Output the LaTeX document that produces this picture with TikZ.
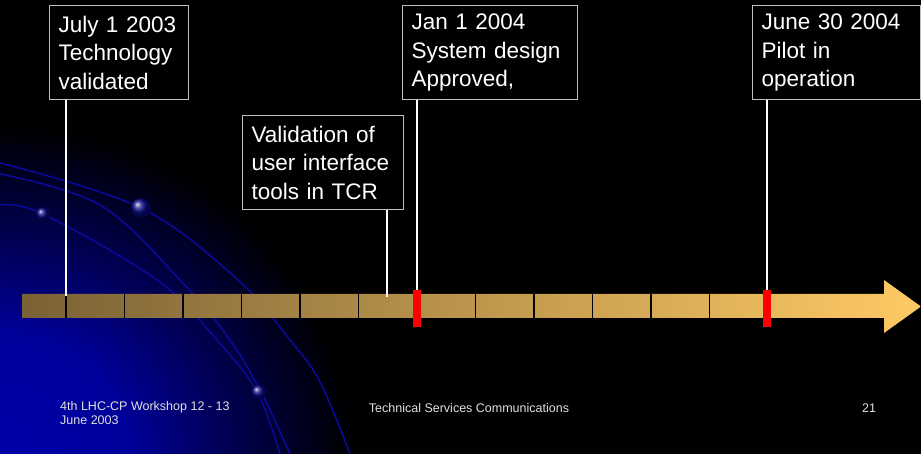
\documentclass[tikz,border=0pt]{standalone}
\usepackage{fontspec}
\setmainfont{Liberation Sans}
\usetikzlibrary{positioning}
\definecolor{barleft}{HTML}{7A6236}
\definecolor{barright}{HTML}{FFCA64}
\definecolor{arcblue}{HTML}{0A0A9C}
\definecolor{glowblue}{HTML}{0000A8}
\pgfdeclareradialshading{glow}{\pgfpoint{0bp}{0bp}}{color(0bp)=(glowblue); color(9bp)=(glowblue!92!black); color(17bp)=(glowblue!45!black); color(25bp)=(black); color(50bp)=(black)}

\begin{document}
\begin{tikzpicture}[x=1pt,y=-1pt,
    milestone/.style={draw=white!75!black, line width=1pt, fill=black,
        text=white, anchor=north west, align=left, inner xsep=9pt,
        inner ysep=0pt, minimum height=94pt,
        font=\fontsize{22.5}{28.5}\selectfont},
    pin/.style={draw=white, line width=2pt},
    marker/.style={fill=red, minimum width=8pt, minimum height=37pt,
        inner sep=0pt},
    orbit/.style={draw=arcblue, line width=1.5pt},
    footer/.style={text=white!88!black, inner sep=0pt,
        font=\fontsize{12.5}{14.5}\selectfont}]

    % background
    \fill[black] (0,0) rectangle (921,454);
    \useasboundingbox (0,0) rectangle (921,454);
    \begin{scope}
        \clip (0,0) rectangle (921,454);
        \shade[shading=glow] (0,454) ellipse (350 and 330);
        \draw[orbit] plot[smooth, tension=0.6] coordinates {(0,163) (141,208) (238,280) (290,340) (320,382) (350,454)};
        \draw[orbit] plot[smooth, tension=0.6] coordinates {(0,174) (100,205) (180,280) (230,340) (262,394) (290,454)};
        \draw[orbit] plot[smooth, tension=0.6] coordinates {(0,205) (43,214) (157,280) (217,340) (257,392) (280,454)};
        \shade[ball color=arcblue!85!black] (43,214) circle (7);
        \shade[ball color=arcblue!85!black] (141,208) circle (10);
        \shade[ball color=arcblue!85!black] (259,392) circle (7.5);
    \end{scope}

    % time line
    \shade[left color=barleft, right color=barright]
        (22,294) -- (884,294) -- (884,280) -- (921,306.5) -- (884,333)
        -- (884,318) -- (22,318) -- cycle;
    \foreach \i in {0,...,11}
        \draw[black, line width=1.5pt] ({66+58.5*\i},294) -- ({66+58.5*\i},318);

    \node[marker] (jan) at (417,308.5) {};
    \node[marker] (june) at (767,308.5) {};
    \coordinate (tjuly) at (66,296);
    \coordinate (ttcr) at (387,297);

    % milestones
    \node[milestone, text width=121pt] (july) at (49,5) {July 1 2003\\Technology\\validated};
    \node[milestone, text width=143pt] (tcr) at (242,115) {Validation of\\user interface\\tools in TCR};
    \node[milestone, text width=157pt] (design) at (402,5) {Jan 1 2004\\System design\\Approved,};
    \node[milestone, text width=150pt] (pilot) at (752,5) {June 30 2004\\Pilot in\\operation};

    \draw[pin] (july.south -| tjuly) -- (tjuly);
    \draw[pin] (tcr.south -| ttcr) -- (ttcr);
    \draw[pin] (design.south -| jan) -- (jan.north);
    \draw[pin] (pilot.south -| june) -- (june.north);

    % footer
    \node[footer, anchor=north west, align=left] (venue) at (60,401) {4th LHC-CP Workshop 12 - 13\\June 2003};
    \node[footer, anchor=base] (dept) at (469,412) {Technical Services Communications};
    \node[footer, anchor=base] (page) at (869,412) {21};
\end{tikzpicture}
\end{document}
